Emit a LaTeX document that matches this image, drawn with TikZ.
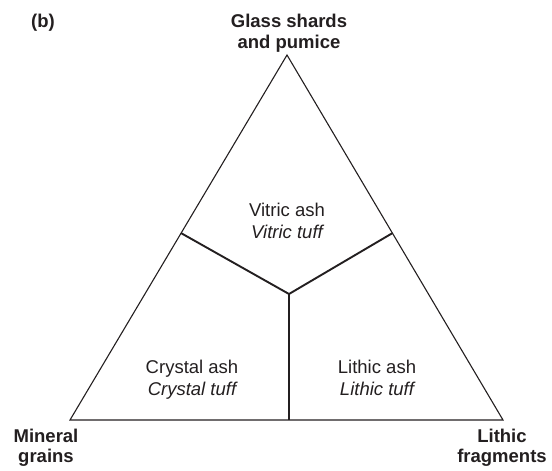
\documentclass[tikz,border=0pt]{standalone}
\usepackage{fontspec}
\setmainfont{Liberation Sans}
\usetikzlibrary{calc}
\definecolor{ink}{HTML}{231F20}
\begin{document}
\begin{tikzpicture}[x=1pt,y=-1pt,
  edge/.style={draw=ink,line width=1.1pt,line join=miter},
  divider/.style={draw=ink,line width=1.9pt},
  corner/.style={text=ink,font=\fontsize{18.5}{20.5}\selectfont\bfseries,align=center,anchor=base,inner sep=0pt},
  field/.style={text=ink,font=\fontsize{18.5}{22}\selectfont,align=center,anchor=base,inner sep=0pt}]
\useasboundingbox (0,0) rectangle (552,471);
\coordinate (A) at (287,55);
\coordinate (L) at (70,420);
\coordinate (R) at (503,420);
\coordinate (C) at (289,294);
\coordinate (PL) at ($(L)!0.512!(A)$);
\coordinate (PR) at ($(R)!0.512!(A)$);
\coordinate (PB) at (C |- L);
\draw[edge] (A) -- (L) -- (R) -- cycle;
\draw[divider] (PL) -- (C) -- (PR);
\draw[divider] (C) -- (PB);
\node[corner] (lab) at (43,27.7) {(b)};
\node[corner] (top) at (289,48.2) {Glass shards\\and pumice};
\node[corner] (left) at (46,462.5) {Mineral\\grains};
\node[corner] (right) at (502,462.5) {Lithic\\fragments};
\node[field] (vitric) at (287,238.5) {Vitric ash\\\itshape Vitric tuff};
\node[field] (crystal) at (192,395) {Crystal ash\\\itshape Crystal tuff};
\node[field] (lithic) at (377,395) {Lithic ash\\\itshape Lithic tuff};
\end{tikzpicture}
\end{document}
